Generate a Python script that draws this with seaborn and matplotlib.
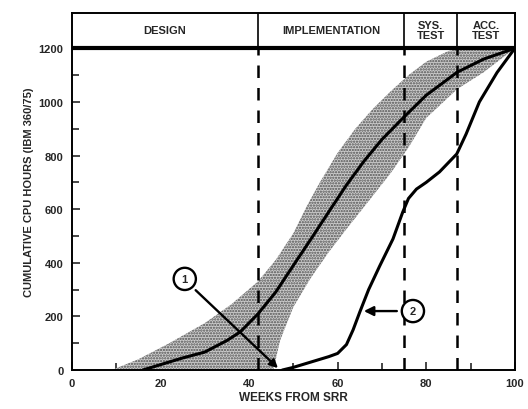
import matplotlib
matplotlib.use("Agg")
import matplotlib.pyplot as plt
import seaborn as sns
import pandas as pd
import numpy as np

# ---- data ----
median_weeks = [16, 20, 25, 30, 35, 38, 42, 46, 50, 54, 58, 62, 66, 70, 75, 80, 87, 93, 100]
median_hours = [0, 20, 45, 67, 110, 142, 209, 290, 390, 489, 590, 690, 780, 860, 944, 1025, 1111, 1160, 1200]

proj_weeks = [47.5, 50, 54, 58, 60, 62, 63.5, 65, 67, 69.5, 72.5, 74.7, 76, 77.8, 80, 83, 86.9, 89, 92, 96, 100]
proj_hours = [0, 10, 30, 50, 62, 95, 150, 216, 300, 388, 489, 589, 640, 675, 700, 739, 806, 880, 1000, 1110, 1200]

upper_weeks = [9, 15, 22, 30, 36, 42, 46, 50, 53, 56, 60, 64, 68, 72, 76, 80, 85, 88, 100]
upper_hours = [0, 40, 100, 175, 245, 330, 410, 510, 610, 700, 810, 900, 975, 1040, 1100, 1150, 1190, 1200, 1200]

lower_weeks = [45.5, 47, 50, 54, 58, 62, 67, 72, 76, 80, 87, 93, 100]
lower_hours = [0, 110, 235, 345, 440, 526, 630, 735, 830, 940, 1048, 1111, 1200]

phase_bounds = [0, 42, 75, 87, 100]
phase_labels = ["DESIGN", "IMPLEMENTATION", "SYS.\nTEST", "ACC.\nTEST"]

x_ticks = [0, 20, 40, 60, 80, 100]
y_ticks = [0, 200, 400, 600, 800, 1000, 1200]

# ---- style ----
sns.set_style("ticks")
plt.rcParams["font.family"] = ["Liberation Sans", "DejaVu Sans"]
plt.rcParams["font.weight"] = "bold"
plt.rcParams["hatch.linewidth"] = 1.1
plt.rcParams["hatch.color"] = "#505050"

fig = plt.figure(figsize=(5.28, 4.10), dpi=100)
ax = fig.add_axes([0.136, 0.095, 0.839, 0.871])

# shaded envelope
grid = np.linspace(9, 100, 400)
up = np.interp(grid, upper_weeks, upper_hours)
lo = np.interp(grid, lower_weeks, lower_hours, left=0)
ax.fill_between(grid, lo, up, facecolor="#cccccc", edgecolor="#505050",
                hatch="......", linewidth=0, zorder=1)

df_med = pd.DataFrame({"week": median_weeks, "hours": median_hours})
df_proj = pd.DataFrame({"week": proj_weeks, "hours": proj_hours})
sns.lineplot(data=df_med, x="week", y="hours", color="black", lw=2.2, ax=ax, zorder=3)
sns.lineplot(data=df_proj, x="week", y="hours", color="black", lw=2.2, ax=ax, zorder=3)

# phase dividers
for b in phase_bounds[1:-1]:
    ax.plot([b, b], [0, 1200], color="black", lw=1.8, ls=(0, (5, 4)), zorder=2)
    ax.plot([b, b], [1200, 1335], color="black", lw=1.2, zorder=4)
ax.axhline(1200, color="black", lw=3.0, zorder=4)

ymax = 1332
for i, lab in enumerate(phase_labels):
    cx = (phase_bounds[i] + phase_bounds[i + 1]) / 2
    ax.text(cx, 1268, lab, ha="center", va="center", fontsize=8,
            fontweight="bold", linespacing=1.0)

# annotations
ax.annotate("", xy=(47, 0), xytext=(27.5, 305),
            arrowprops=dict(arrowstyle="-|>", color="black", lw=1.7,
                            mutation_scale=12), zorder=5)
ax.annotate("", xy=(65.3, 220), xytext=(74.0, 220),
            arrowprops=dict(arrowstyle="-|>", color="black", lw=1.7,
                            mutation_scale=14), zorder=5)
for (cx, cy, t) in [(25.5, 340, "1"), (77.0, 220, "2")]:
    ax.text(cx, cy, t, ha="center", va="center", fontsize=8, fontweight="bold",
            bbox=dict(boxstyle="circle,pad=0.55", fc="white", ec="black", lw=1.7),
            zorder=6)

ax.set_xlim(0, 100)
ax.set_ylim(0, ymax)
ax.set_xticks(x_ticks)
ax.set_xticks(np.arange(0, 101, 10), minor=True)
ax.set_yticks(y_ticks)
ax.set_yticks(np.arange(0, 1201, 100), minor=True)
ax.tick_params(axis="both", which="both", direction="in", width=1.2, labelsize=8)
ax.tick_params(axis="both", which="major", length=6, pad=6)
ax.tick_params(axis="both", which="minor", length=5)
for lab in ax.get_xticklabels() + ax.get_yticklabels():
    lab.set_fontweight("bold")
for s in ax.spines.values():
    s.set_linewidth(1.4)
    s.set_color("black")

ax.set_xlabel("WEEKS FROM SRR", fontsize=8.5, fontweight="bold", labelpad=2)
ax.set_ylabel("CUMULATIVE CPU HOURS (IBM 360/75)", fontsize=8, fontweight="bold", labelpad=3)

fig.savefig("out.png", dpi=100)
